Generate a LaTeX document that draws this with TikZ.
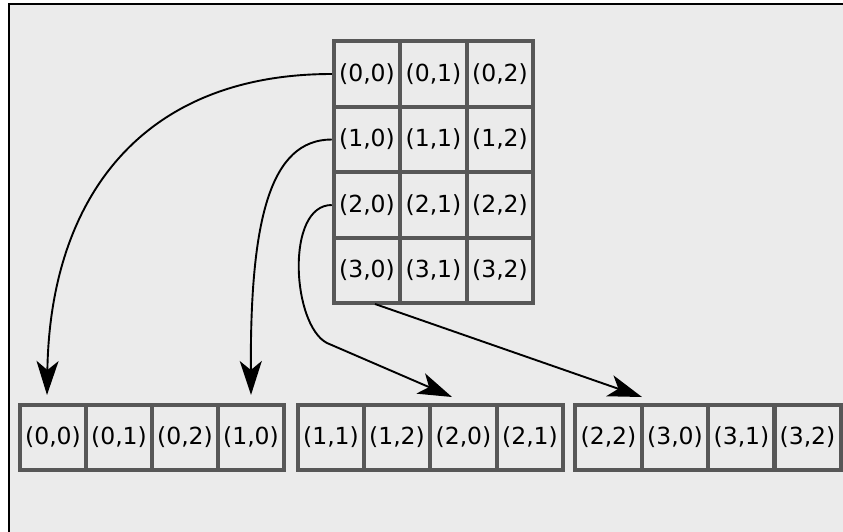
\documentclass[tikz,border=0pt]{standalone}
\usepackage{fontspec}
\setmainfont{DejaVu Sans}
\usetikzlibrary{arrows.meta}
\definecolor{panel}{HTML}{EBEBEB}
\definecolor{cellline}{HTML}{575757}
\tikzset{
  cell/.style={draw=cellline, line width=4.2pt, minimum width=66.3pt, minimum height=65.5pt,
    inner sep=0pt, font=\fontsize{23.5}{28}\selectfont},
  flow/.style={line width=1.9pt, -{Stealth[length=34pt, width=22pt, inset=9pt]}}
}
\begin{document}
\begin{tikzpicture}[x=1pt, y=-1pt]
  \useasboundingbox (0,0) rectangle (843,531);
  % panel with its top and left edge
  \fill[white] (0,0) rectangle (843,531);
  \fill[panel] (8.5,3.5) rectangle (845,533);
  \draw[line width=2pt] (8.5,533) -- (8.5,3.5) -- (845,3.5);

  % 4 x 3 matrix
  \foreach \r/\y in {0/74, 1/139.5, 2/205, 3/270.5} {
    \foreach \c/\x in {0/367, 1/433.5, 2/500} {
      \node[cell] (t\r\c) at (\x,\y) {(\r,\c)};
    }
  }

  % flattened rows
  \node[cell] (a0) at (53,437.5) {(0,0)};
  \node[cell] (a1) at (119,437.5) {(0,1)};
  \node[cell] (a2) at (185,437.5) {(0,2)};
  \node[cell] (a3) at (251,437.5) {(1,0)};

  \node[cell] (b0) at (331,437.5) {(1,1)};
  \node[cell] (b1) at (397,437.5) {(1,2)};
  \node[cell] (b2) at (463.5,437.5) {(2,0)};
  \node[cell] (b3) at (530,437.5) {(2,1)};

  \node[cell] (c0) at (608.5,437.5) {(2,2)};
  \node[cell] (c1) at (675,437.5) {(3,0)};
  \node[cell] (c2) at (741.5,437.5) {(3,1)};
  \node[cell] (c3) at (807.5,437.5) {(3,2)};

  % arrow end points
  \coordinate (e1) at (47,395);
  \coordinate (e2) at (251,395);
  \coordinate (e3) at (452,397);
  \coordinate (e4) at (642,397);
  \coordinate (s4) at (375,304);
  \coordinate (k3) at (327,343);

  \draw[flow] (t00.west) .. controls (140,74) and (50,200) .. (e1);
  \draw[flow] (t10.west) .. controls (270,139.5) and (250,220) .. (e2);
  \draw[flow] (t20.west) .. controls (285,205) and (292,325) .. (k3) -- (e3);
  \draw[flow] (s4) -- (e4);
\end{tikzpicture}
\end{document}
